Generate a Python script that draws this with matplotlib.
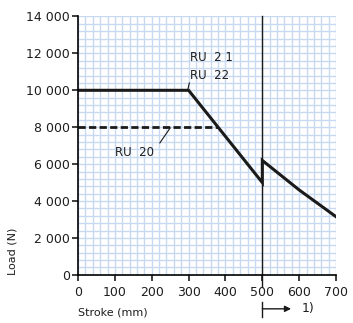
import matplotlib.pyplot as plt
from matplotlib.ticker import MultipleLocator, FuncFormatter

# RU 21 / RU 22 load curve
stroke_ru21 = [0, 300, 500, 500, 600, 700]
load_ru21 = [10000, 10000, 5000, 6200, 4600, 3150]

# RU 20 load curve
stroke_ru20 = [0, 380]
load_ru20 = [8000, 8000]

x_ticks = [0, 100, 200, 300, 400, 500, 600, 700]
y_ticks = [0, 2000, 4000, 6000, 8000, 10000, 12000, 14000]

grid_blue = '#c9d9f1'
ink = '#1a1a1a'

fig = plt.figure(figsize=(3.53, 3.23), dpi=100)
ax = fig.add_axes([0.221, 0.149, 0.731, 0.800])

ax.set_xlim(0, 700)
ax.set_ylim(0, 14000)
ax.set_xticks(x_ticks)
ax.set_yticks(y_ticks)
ax.xaxis.set_minor_locator(MultipleLocator(20))
ax.yaxis.set_minor_locator(MultipleLocator(400))
ax.yaxis.set_major_formatter(FuncFormatter(lambda v, p: f'{int(v):,}'.replace(',', ' ')))

ax.grid(which='both', color=grid_blue, linewidth=1.0)
ax.set_axisbelow(True)
for s in ('top', 'right'):
    ax.spines[s].set_visible(False)
for s in ('left', 'bottom'):
    ax.spines[s].set_linewidth(1.2)
ax.tick_params(which='minor', length=0)
ax.tick_params(which='major', length=4, width=1.2, labelsize=9, pad=2, colors='#1e1e1e')
ax.tick_params(axis='x', pad=4)

ax.plot(stroke_ru21, load_ru21, color=ink, linewidth=2.2, solid_joinstyle='miter')
ax.plot(stroke_ru20, load_ru20, color=ink, linewidth=2.0, linestyle=(0, (2.6, 1.2)))

# vertical marker at 500 mm and arrow note
ax.plot([500, 500], [14000, -650], color=ink, linewidth=1.0, clip_on=False)
ax.plot([500, 500], [-1460, -2270], color=ink, linewidth=1.0, clip_on=False)
ax.annotate('', xy=(578, -1840), xytext=(500, -1840),
            arrowprops=dict(arrowstyle='-|>', color=ink, lw=1.0, mutation_scale=9,
                            shrinkA=0, shrinkB=0),
            annotation_clip=False)
ax.text(606, -1840, '1)', fontsize=9, va='center', ha='left', color='#1e1e1e')

# curve labels
ax.text(305, 11800, 'RU  2 1', fontsize=8.5, color='#1e1e1e', va='center')
ax.text(305, 10800, 'RU  22', fontsize=8.5, color='#1e1e1e', va='center')
ax.plot([298, 302], [10050, 10400], color=ink, linewidth=0.8)
ax.text(100, 6650, 'RU  20', fontsize=8.5, color='#1e1e1e', va='center')
ax.plot([222, 250], [7150, 7960], color=ink, linewidth=0.8)

ax.set_xlabel('Stroke (mm)', fontsize=8, labelpad=6, loc='left', color='#1e1e1e')
ax.set_ylabel('Load (N)', fontsize=8, labelpad=6, loc='bottom', color='#1e1e1e')

fig.savefig('out.png', dpi=100)
